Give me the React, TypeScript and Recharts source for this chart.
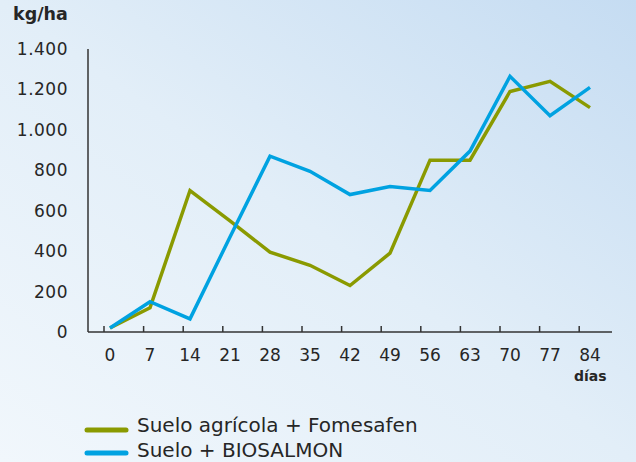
import React from "react"
import { LineChart, Line, XAxis, YAxis } from "recharts"

// days after application
const days = [0, 7, 14, 21, 28, 35, 42, 49, 56, 63, 70, 77, 84]

// kg/ha
const fomesafen = [20, 120, 700, 550, 395, 330, 230, 390, 850, 850, 1190, 1240, 1110]
const biosalmon = [20, 150, 65, 470, 870, 795, 680, 720, 700, 895, 1265, 1070, 1210]

const yTicks = [0, 200, 400, 600, 800, 1000, 1200, 1400]

const seriesNames = ["Suelo agrícola + Fomesafen", "Suelo + BIOSALMON"]
const COLORS = ["#8a9a00", "#00a2e1"]

const data = days.map((d, i) => ({ day: d, a: fomesafen[i], b: biosalmon[i] }))

const FONT = "'DejaVu Sans', sans-serif"
const TEXT = "#262626"

const fmt = (v: number) => String(v).replace(/\B(?=(\d{3})+(?!\d))/g, ".")

const XTick = (props: any) => {
  const { x, y, payload, index } = props
  const tx = x - 6 - index * 0.4
  return (
    <g>
      <line x1={tx} x2={tx} y1={y - 6} y2={y} stroke="#333" strokeWidth={1.5} />
      <text x={x} y={y + 29} textAnchor="middle" fill={TEXT} fontSize={17} fontFamily={FONT}>
        {payload.value}
      </text>
    </g>
  )
}

const YTick = (props: any) => {
  const { x, y, payload } = props
  return (
    <text x={x} y={y + 6} textAnchor="end" fill={TEXT} fontSize={17} fontFamily={FONT} letterSpacing={0.5}>
      {fmt(payload.value)}
    </text>
  )
}

export default function App() {
  return (
    <div
      style={{
        position: "absolute",
        left: 0,
        top: 0,
        width: 636,
        height: 462,
        overflow: "hidden",
        background: "linear-gradient(to top right, #f1f7fc 0%, #e2eef8 50%, #c5dcf2 100%)",
        fontFamily: FONT,
      }}
    >
      <LineChart width={636} height={462} data={data} margin={{ top: 49, right: 24, bottom: 0, left: 0 }}>
        <XAxis
          dataKey="day"
          type="category"
          padding={{ left: 22, right: 22 }}
          axisLine={{ stroke: "#333", strokeWidth: 1.5 }}
          tickLine={false}
          tickSize={0}
          tickMargin={0}
          tick={<XTick />}
          interval={0}
          height={130}
        />
        <YAxis
          width={88}
          domain={[0, 1400]}
          ticks={yTicks}
          axisLine={{ stroke: "#333", strokeWidth: 1.5 }}
          tickLine={false}
          tickSize={0}
          tickMargin={20}
          tick={<YTick />}
          interval={0}
        />
        <Line dataKey="a" name={seriesNames[0]} stroke={COLORS[0]} strokeWidth={3.5} dot={false} isAnimationActive={false} strokeLinejoin="miter" />
        <Line dataKey="b" name={seriesNames[1]} stroke={COLORS[1]} strokeWidth={3.5} dot={false} isAnimationActive={false} strokeLinejoin="miter" />
      </LineChart>

      <div style={{ position: "absolute", left: 13, top: 4, fontSize: 17.5, fontWeight: "bold", color: TEXT, lineHeight: "20px" }}>kg/ha</div>
      <div style={{ position: "absolute", left: 574, top: 368, fontSize: 14, fontWeight: "bold", color: TEXT, lineHeight: "16px" }}>días</div>

      <svg style={{ position: "absolute", left: 0, top: 400 }} width={636} height={62}>
        {seriesNames.map((name, i) => (
          <g key={name}>
            <line x1={87} x2={126} y1={30 + i * 23} y2={30 + i * 23} stroke={COLORS[i]} strokeWidth={5} strokeLinecap="round" />
            <text x={137} y={32 + i * 25} fontSize={20} fontFamily={FONT} fill={TEXT}>
              {name}
            </text>
          </g>
        ))}
      </svg>
    </div>
  )
}
